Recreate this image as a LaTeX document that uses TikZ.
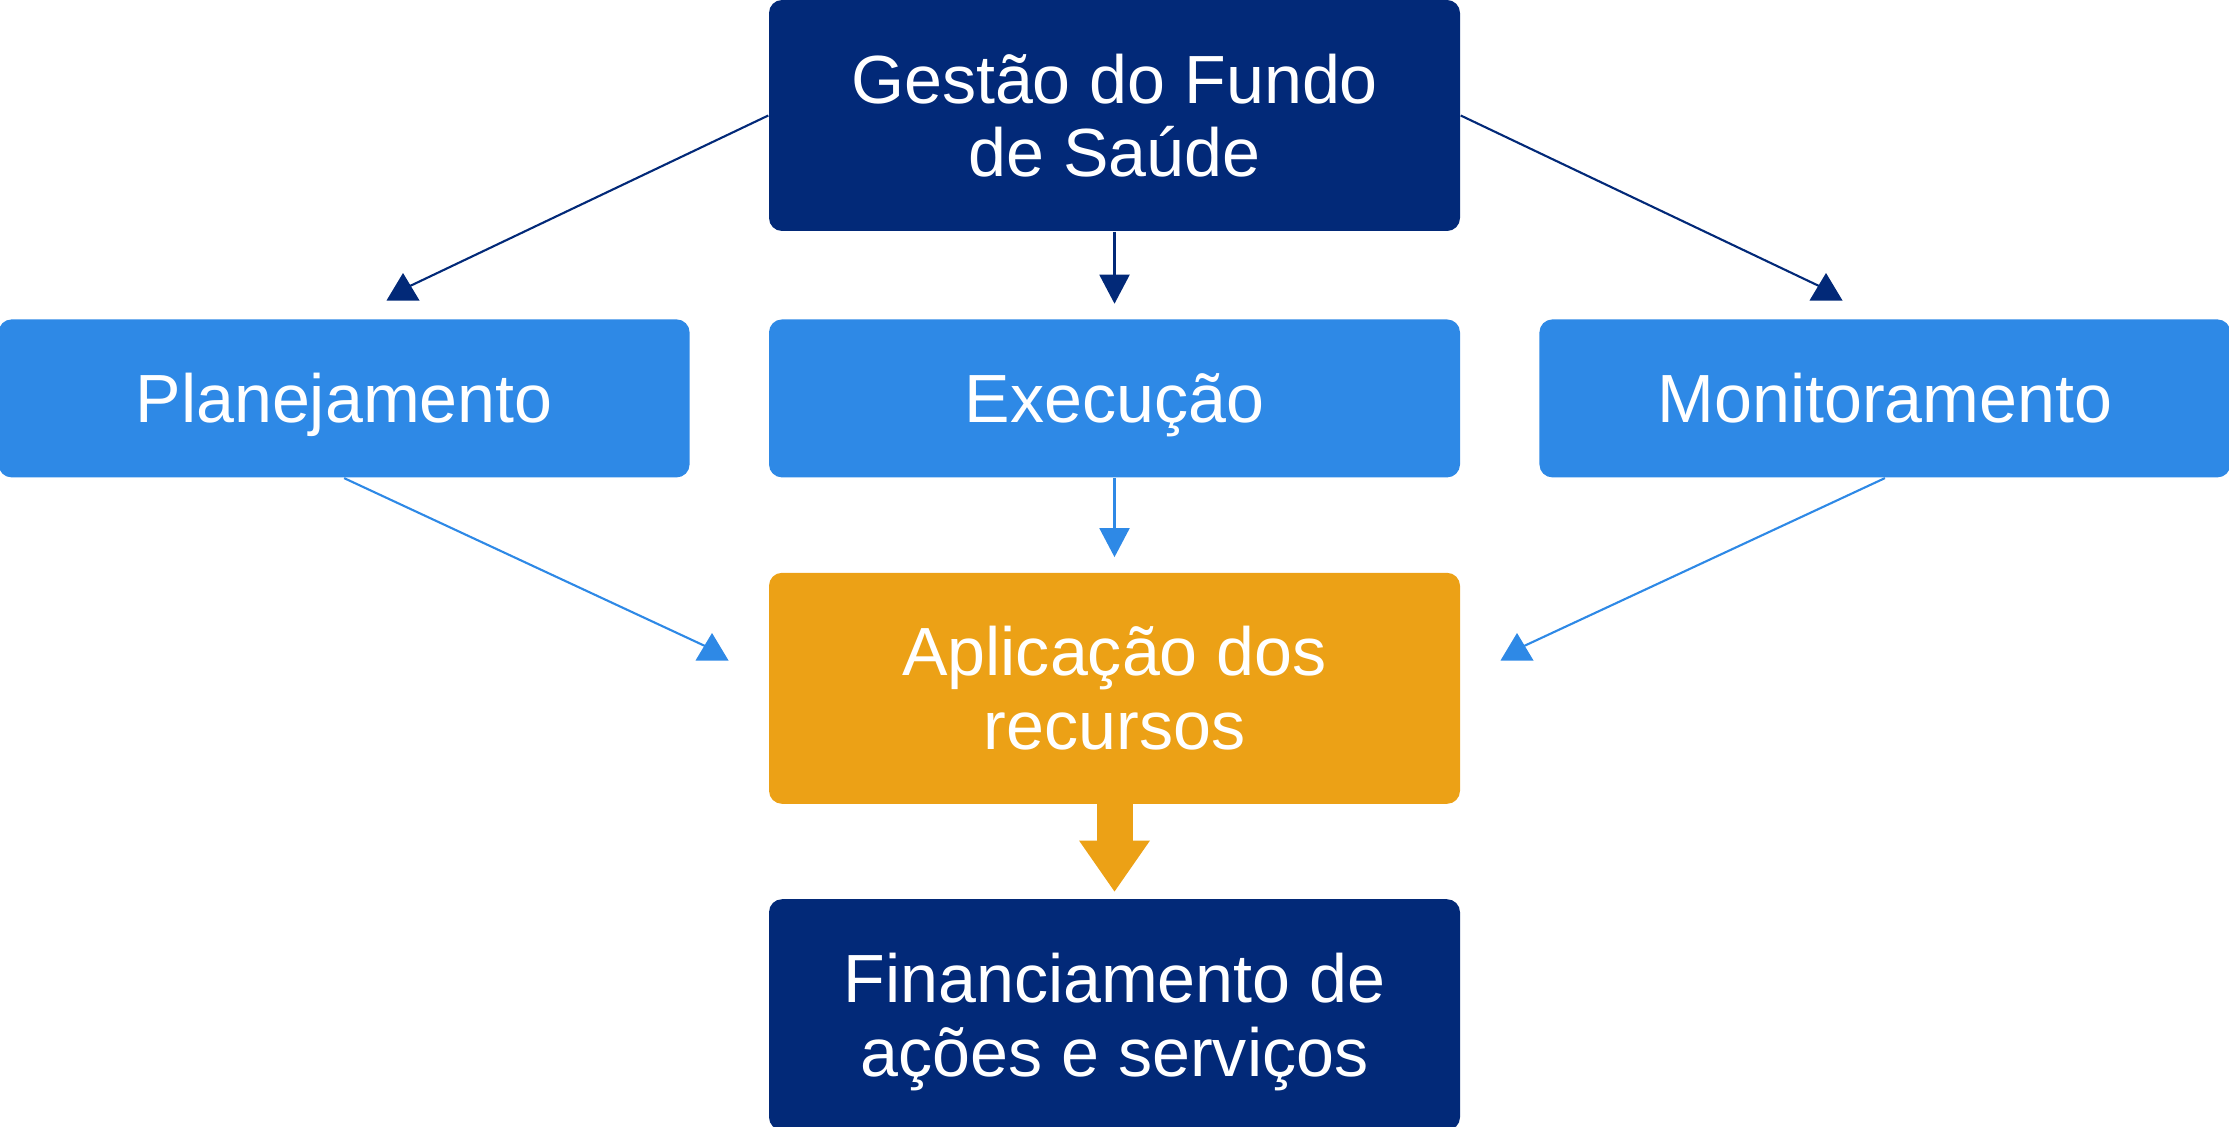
\documentclass[tikz,border=0pt]{standalone}
\usepackage{fontspec}
\setmainfont{Liberation Sans}
\usetikzlibrary{arrows.meta,positioning}

\definecolor{navy}{RGB}{2,41,120}
\definecolor{lblue}{RGB}{46,137,230}
\definecolor{amber}{RGB}{236,161,22}

\tikzset{
  headup/.pic={\fill (0,0) -- (-0.165,-0.275) -- (0.165,-0.275) -- cycle;},
}

\begin{document}
\begin{tikzpicture}[
    box/.style={rectangle, rounded corners=0.13cm, minimum width=6.91cm, inner sep=0pt,
      text=white, align=center, font=\fontsize{19.4}{21}\selectfont, text depth=0pt},
    onel/.style={box, fill=lblue, minimum height=1.58cm, text height=13.9pt},
    twol/.style={box, minimum height=2.31cm, text height=34.9pt},
    link/.style={line width=0.6pt},
    tip/.style={-{Triangle[length=0.29cm,width=0.30cm]}, shorten >=0.15cm},
  ]
  \useasboundingbox (0,0) rectangle (22.29,-11.26);

  \node[twol,fill=navy] (gestao) at (11.145,-1.155) {Gestão do Fundo\\de Saúde};
  \node[onel,below=0.87cm of gestao] (exec) {Execução};
  \node[onel,left=0.78cm of exec] (plan) {Planejamento};
  \node[onel,right=0.78cm of exec] (monit) {Monitoramento};
  \node[twol,fill=amber,below=0.94cm of exec] (aplic) {Aplicação dos\\recursos};
  \node[twol,fill=navy,below=0.94cm of aplic] (financ) {Financiamento de\\ações e serviços};

  % loose ends of the slanted links and their heads
  \coordinate (endpl) at (4.10,-2.86);
  \coordinate (endmo) at (18.19,-2.86);
  \coordinate (endap1) at (7.05,-6.46);
  \coordinate (endap2) at (15.24,-6.46);
  \coordinate (hdpl) at (4.03,-2.73);
  \coordinate (hdmo) at (18.26,-2.73);
  \coordinate (hdap1) at (7.12,-6.33);
  \coordinate (hdap2) at (15.17,-6.33);

  \draw[link,navy] (gestao.west) -- (endpl);
  \draw[link,navy] (gestao.east) -- (endmo);
  \draw[link,tip,navy] (gestao) -- (exec);
  \pic[navy] at (hdpl) {headup};
  \pic[navy] at (hdmo) {headup};

  \draw[link,lblue] (plan.south) -- (endap1);
  \draw[link,lblue] (monit.south) -- (endap2);
  \draw[link,tip,lblue] (exec) -- (aplic);
  \pic[lblue] at (hdap1) {headup};
  \pic[lblue] at (hdap2) {headup};

  \draw[amber, line width=0.36cm, shorten <=-0.03cm, shorten >=0.07cm,
    -{Triangle[length=0.51cm,width=0.71cm,line width=0pt]}] (aplic) -- (financ);
\end{tikzpicture}
\end{document}
